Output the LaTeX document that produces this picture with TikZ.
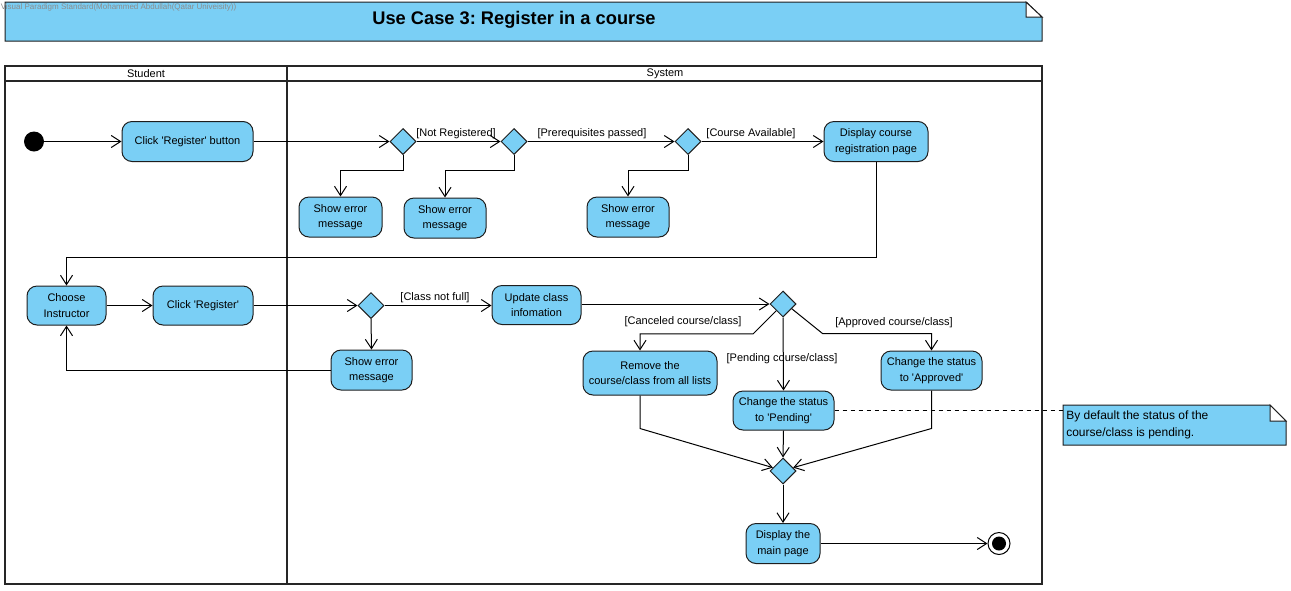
\documentclass[tikz,border=0pt]{standalone}
\usepackage{fontspec}
\setmainfont{Liberation Sans}
\usetikzlibrary{shapes.geometric,arrows.meta,calc}
\definecolor{vpblue}{RGB}{122,207,245}
\definecolor{vpline}{RGB}{30,30,30}
\newcommand\sq{\textquotesingle}
\frenchspacing
\begin{document}
\begin{tikzpicture}[x=0.75pt,y=-0.75pt,
  lbl/.style={font=\fontsize{8.25}{11.6}\selectfont},
  act/.style={lbl, draw=vpline, line width=0.75pt, fill=vpblue, rounded corners=7.5pt, align=center, inner sep=1pt},
  dec/.style={diamond, draw=vpline, line width=0.75pt, fill=vpblue, minimum width=19.5pt, minimum height=19.5pt, inner sep=0pt},
  flow/.style={draw=black, line width=0.75pt, -{Straight Barb[length=7pt,width=9pt]}},
  plain/.style={draw=black, line width=0.75pt},
  guard/.style={lbl, inner sep=0pt},
  lane/.style={draw=black!85, line width=1.5pt},
  initnode/.style={circle, fill=black, minimum size=15pt, inner sep=0pt},
  finalnode/.style={circle, draw=black, line width=0.75pt, fill=white, minimum size=16.5pt, inner sep=0pt,
    path picture={\fill[black] (path picture bounding box.center) circle (5.25pt);}}
]
\useasboundingbox (0,0) rectangle (1291,590);
% title note
\path[draw=vpline, line width=0.75pt, fill=vpblue] (5,2) -- (1026,2) -- (1042,17) -- (1042,41) -- (5,41) -- cycle;
\path[draw=vpline, line width=0.75pt, fill=white] (1026,2) -- (1026,17) -- (1042,17) -- cycle;
\node[font=\fontsize{13.7}{16}\selectfont\bfseries] (title) at (514,19.5) {Use Case 3: Register in a course};
\node[anchor=west, inner sep=0pt, text=black!45, font=\fontsize{6}{7}\selectfont] (wm) at (0.5,7) {Visual Paradigm Standard(Mohammed Abdullah(Qatar Univeisity))};
% swimlanes
\draw[lane] (5,66) rectangle (1042,584);
\draw[lane] (5,81) -- (1042,81);
\draw[lane] (287,66) -- (287,584);
\node[lbl] (lstudent) at (146,74) {Student};
\node[lbl] (lsystem) at (665,74) {System};
% row 1
\node[initnode] (start) at (34,141.5) {};
\node[act, minimum width=98.25pt, minimum height=30pt] (clickbtn) at (187.5,141.5) {Click \sq Register\sq{} button};
\node[dec] (d1) at (403,141.5) {};
\node[dec] (d2) at (514,141.5) {};
\node[dec] (d3) at (688,141.5) {};
\node[act, minimum width=78pt, minimum height=30pt] (disp) at (876,141.5) {Display course\\registration page};
\node[act, minimum width=62.25pt, minimum height=30pt] (err1) at (340.5,217) {Show error\\message};
\node[act, minimum width=61.5pt, minimum height=30pt] (err2) at (445,218) {Show error\\message};
\node[act, minimum width=61.5pt, minimum height=30pt] (err3) at (628,217) {Show error\\message};
\node[guard] (g1) at (456,134) {[Not Registered]};
\node[guard] (g2) at (592,134) {[Prerequisites passed]};
\node[guard] (g3) at (751,134) {[Course Available]};
% row 2
\node[act, minimum width=59.25pt, minimum height=29.25pt] (choose) at (66.5,305.5) {Choose\\Instructor};
\node[act, minimum width=75pt, minimum height=29.25pt] (clickreg) at (203,305.5) {Click \sq Register\sq};
\node[dec] (d4) at (371,305.5) {};
\node[act, minimum width=66.75pt, minimum height=29.25pt] (update) at (536.5,305) {Update class\\infomation};
\node[dec] (d5) at (783,304) {};
\node[act, minimum width=60.75pt, minimum height=30pt] (err4) at (371.5,370) {Show error\\message};
\node[guard] (g4) at (435,298) {[Class not full]};
\node[guard] (g5) at (683,322) {[Canceled course/class]};
\node[guard] (g6) at (782,358.5) {[Pending course/class]};
\node[guard] (g7) at (894,323) {[Approved course/class]};
\node[act, minimum width=100.5pt, minimum height=33pt] (remove) at (650,373) {Remove the\\course/class from all lists};
\node[act, minimum width=75.75pt, minimum height=29.25pt] (pending) at (783.5,410.5) {Change the status\\to \sq Pending\sq};
\node[act, minimum width=75.75pt, minimum height=29.25pt] (approved) at (931.5,370.5) {Change the status\\to \sq Approved\sq};
\node[dec] (d6) at (783,471) {};
\node[act, minimum width=55.5pt, minimum height=30pt] (mainpage) at (783,543.5) {Display the\\main page};
\node[finalnode] (final) at (999,543.5) {};
% comment note
\path[draw=vpline, line width=0.75pt, fill=vpblue] (1063,405) -- (1270,405) -- (1286,421) -- (1286,445) -- (1063,445) -- cycle;
\path[draw=vpline, line width=0.75pt, fill=white] (1270,405) -- (1270,421) -- (1286,421) -- cycle;
\node[anchor=north west, align=left, font=\fontsize{9}{12.75}\selectfont, inner sep=0pt] (note) at (1066,411) {By default the status of the\\course/class is pending.};
\coordinate (notew) at (1063,410);
% connectors
\draw[flow] (start) -- (clickbtn);
\draw[flow] (clickbtn.east) -- (d1.west);
\draw[flow] (d1.east) -- (d2.west);
\draw[flow] (d2.east) -- (d3.west);
\draw[flow] (d3.east) -- (disp.west);
\draw[flow] (d1.south) -- ++(0,15) -| (err1.north);
\draw[flow] (d2.south) -- ++(0,15) -| (err2.north);
\draw[flow] (d3.south) -- ++(0,15) -| (err3.north);
\draw[flow] (disp.south) -- ++(0,95) -| (choose.north);
\draw[flow] (choose.east) -- (clickreg.west);
\draw[flow] (clickreg.east) -- (d4.west);
\draw[flow] (d4.east) -- (update.west |- d4.east);
\draw[flow] (d4.south) -- (err4.north);
\draw[flow] (err4.west) -| (choose.south);
\draw[flow] (update.east |- d5.west) -- (d5.west);
\draw[flow] ($(d5.west)!0.5!(d5.south)$) -- ++(-23,23) -| ([xshift=-7.5pt]remove.north);
\draw[flow] (d5.south) -- (pending.north);
\draw[flow] ($(d5.east)!0.35!(d5.south)$) -- ++(31,25) -| (approved.north);
\draw[flow] ([xshift=-7.5pt]remove.south) -- ++(0,33) -- ($(d6.west)!0.25!(d6.north)$);
\draw[flow] (pending.south) -- (d6.north);
\draw[flow] (approved.south) -- ++(0,38) -- ($(d6.east)!0.25!(d6.north)$);
\draw[flow] (d6.south) -- (mainpage.north);
\draw[flow] (mainpage.east) -- (final.west);
\draw[plain, dashed] (pending.east) -- (pending.east -| notew);
\end{tikzpicture}
\end{document}
